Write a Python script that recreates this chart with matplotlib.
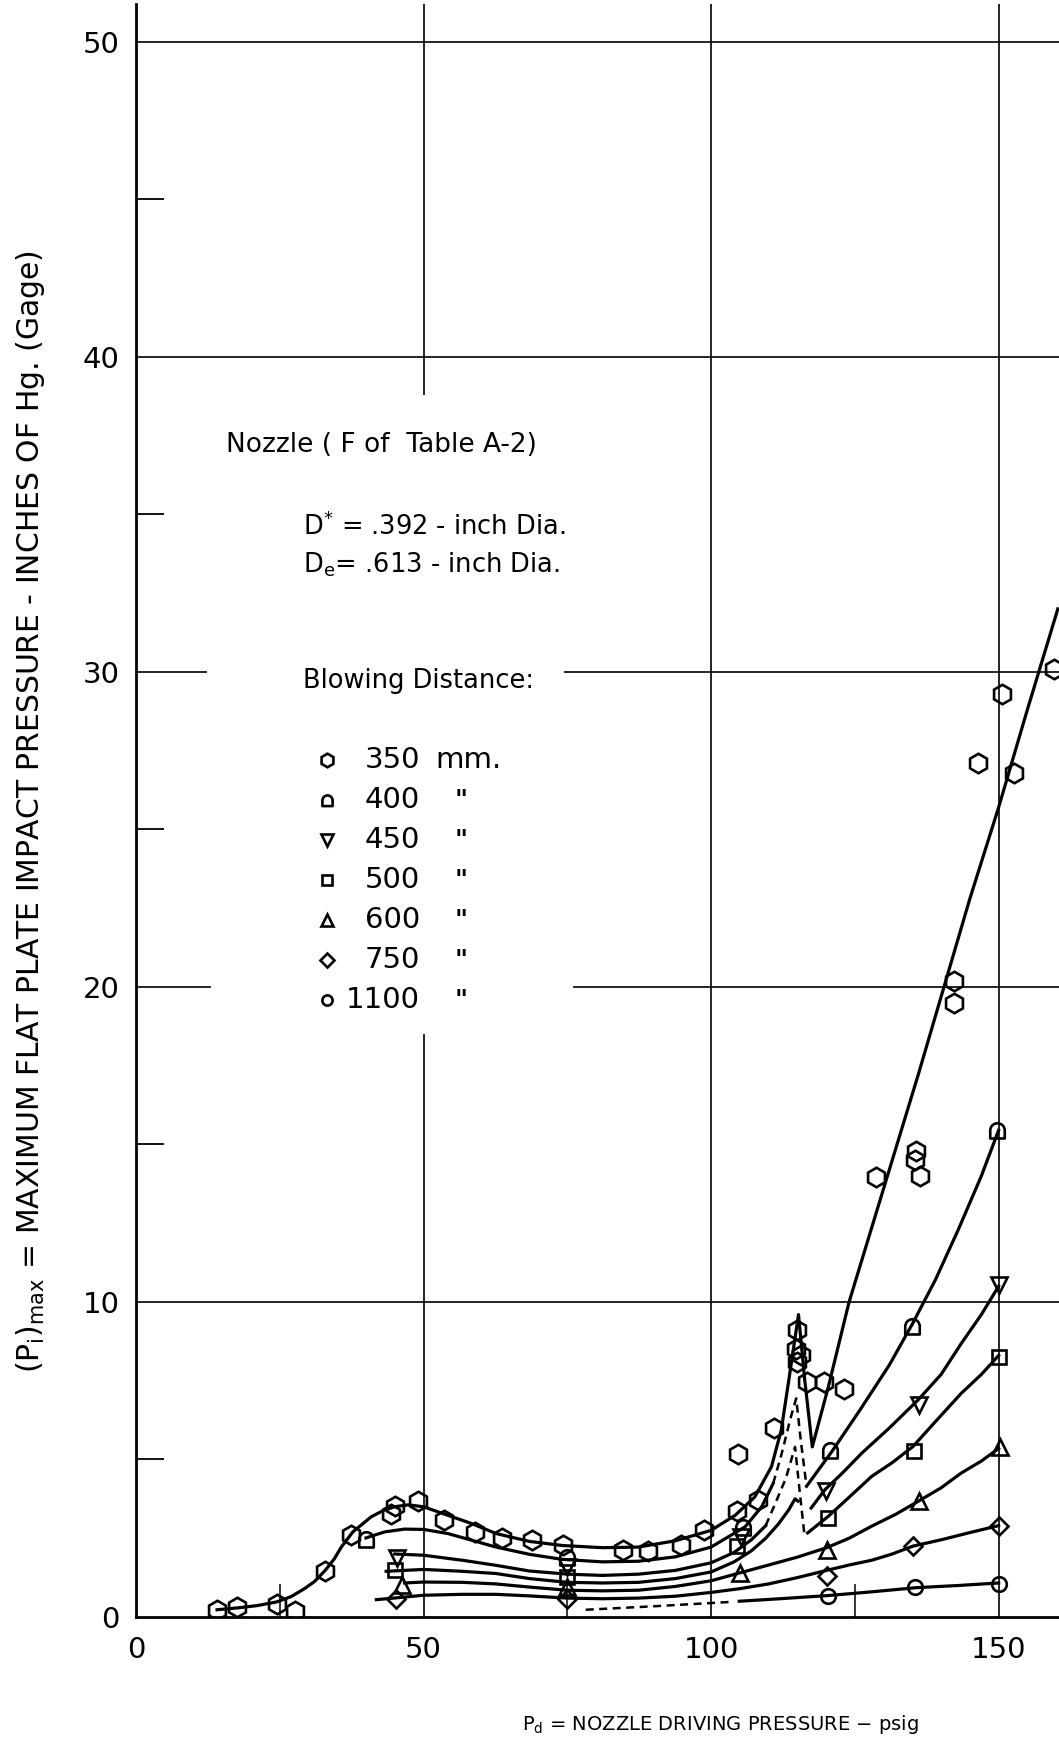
import matplotlib
matplotlib.use("Agg")
import matplotlib.pyplot as plt
from matplotlib.path import Path
from matplotlib import font_manager
import numpy as np

# ---------------- data ----------------
# scatter points per blowing distance
m350_x = [14.1, 17.6, 24.5, 27.6, 32.9, 37.4, 44.3, 45.0, 49.0, 53.5, 58.9, 63.6, 68.9, 74.3,
          84.6, 89.0, 94.7, 98.8, 104.5, 104.7, 108.1, 110.9, 114.9, 114.7, 115.7, 114.9,
          116.7, 119.7, 123.1, 128.6, 135.7, 135.5, 136.4, 142.3, 142.3, 146.4, 150.6, 152.7, 159.7]
m350_y = [0.23, 0.32, 0.42, 0.18, 1.45, 2.60, 3.28, 3.53, 3.68, 3.07, 2.71, 2.50, 2.45, 2.29,
          2.13, 2.11, 2.29, 2.77, 3.35, 5.16, 3.72, 5.99, 9.10, 8.52, 8.31, 8.10,
          7.47, 7.47, 7.23, 13.96, 14.8, 14.5, 14.0, 20.2, 19.5, 27.1, 29.3, 26.8, 30.1]
m400_x = [40.0, 75.0, 105.5, 120.7, 134.9, 149.7]
m400_y = [2.49, 1.90, 2.85, 5.31, 9.23, 15.45]
m450_x = [45.4, 75.0, 105.2, 119.9, 136.1, 150.0]
m450_y = [1.88, 1.59, 2.55, 3.99, 6.73, 10.53]
m500_x = [45.0, 75.0, 104.5, 120.3, 135.3, 150.0]
m500_y = [1.48, 1.27, 2.24, 3.14, 5.27, 8.26]
m600_x = [46.2, 75.0, 105.0, 120.1, 136.1, 150.3]
m600_y = [1.01, 0.95, 1.39, 2.14, 3.67, 5.41]
m750_x = [45.2, 75.0, 120.1, 135.1, 150.0]
m750_y = [0.58, 0.58, 1.30, 2.25, 2.88]
m1100_x = [120.3, 135.5, 150.0]
m1100_y = [0.66, 0.95, 1.05]

# hand-drawn fitted curves
c350_x = [14.1, 17.7, 21.0, 24.5, 27.0, 29.3, 31.0, 32.9, 34.5, 35.7, 37.7, 40.9, 43.0, 45.0, 47.3,
          50.0, 54.2, 58.3, 62.6, 68.4, 74.1, 81.1, 87.4, 93.8, 100.0, 104.2, 107.6, 110.5, 112.2,
          113.5, 115.2, 116.3, 117.6, 120.4, 124.0, 128.0, 132.0, 136.0, 140.5, 145.0, 150.0, 155.0, 160.3]
c350_y = [0.23, 0.29, 0.36, 0.48, 0.65, 0.90, 1.12, 1.48, 1.85, 2.22, 2.70, 3.18, 3.38, 3.50, 3.56,
          3.50, 3.23, 2.97, 2.65, 2.40, 2.27, 2.20, 2.22, 2.42, 2.75, 3.23, 3.81, 4.77, 5.93,
          7.50, 9.60, 7.50, 5.40, 7.31, 10.0, 12.4, 14.8, 17.2, 20.0, 22.8, 25.7, 28.8, 32.0]
c400_left_x = [40.0, 43.2, 46.7, 50.0, 54.2, 58.3, 62.6, 68.4, 74.1, 81.1, 87.4, 93.8, 100.0, 105.9, 108.8, 110.8]
c400_left_y = [2.51, 2.70, 2.79, 2.78, 2.65, 2.44, 2.22, 1.99, 1.83, 1.75, 1.77, 1.91, 2.22, 2.86, 3.50, 4.24]
c400_dash_x = [110.8, 112.3, 113.8, 114.8, 115.6, 116.6]
c400_dash_y = [4.24, 5.2, 6.3, 6.94, 5.6, 4.15]
c400_right_x = [116.6, 121.0, 126.0, 131.0, 135.0, 139.0, 143.0, 147.0, 150.0]
c400_right_y = [4.15, 5.25, 6.6, 8.0, 9.3, 10.7, 12.3, 14.0, 15.45]
c450_left_x = [45.0, 50.0, 56.8, 62.6, 68.4, 75.0, 81.1, 87.4, 93.8, 100.0, 104.0, 107.0, 109.5]
c450_left_y = [2.0, 1.96, 1.80, 1.64, 1.46, 1.36, 1.32, 1.36, 1.48, 1.72, 2.05, 2.45, 2.9]
c450_dash_x = [109.5, 111.2, 113.0, 114.6, 115.4, 116.2]
c450_dash_y = [2.9, 3.62, 4.4, 5.4, 4.0, 2.67]
c450_right_x = [117.4, 119.8, 123.0, 126.2, 131.0, 136.0, 140.0, 143.5, 147.0, 150.0]
c450_right_y = [3.46, 4.04, 4.6, 5.2, 6.0, 6.89, 7.7, 8.68, 9.6, 10.5]
c500_left_x = [43.5, 50.0, 56.8, 62.6, 68.4, 75.0, 81.1, 87.4, 93.8, 100.0, 104.0, 107.0, 109.5, 111.7, 113.5, 114.6, 115.1]
c500_left_y = [1.45, 1.51, 1.45, 1.38, 1.22, 1.10, 1.08, 1.10, 1.22, 1.43, 1.75, 2.10, 2.50, 2.95, 3.40, 3.75, 3.68]
c500_right_x = [116.8, 120.4, 124.0, 127.9, 131.5, 135.1, 139.0, 143.5, 147.0, 150.0]
c500_right_y = [2.67, 3.20, 3.80, 4.46, 4.90, 5.41, 6.2, 7.1, 7.7, 8.3]
c600_x = [46.7, 50.0, 56.8, 62.6, 68.4, 75.0, 81.1, 87.4, 93.8, 100.0, 105.0, 110.0, 115.0, 120.1,
          124.0, 127.9, 132.0, 136.0, 140.0, 143.5, 147.0, 150.0]
c600_y = [1.08, 1.11, 1.10, 1.05, 0.95, 0.85, 0.83, 0.85, 0.97, 1.15, 1.40, 1.65, 1.90, 2.20,
          2.50, 2.88, 3.25, 3.67, 4.10, 4.57, 4.95, 5.35]
c750_x = [41.8, 46.0, 50.0, 56.8, 62.6, 68.4, 75.0, 81.1, 87.4, 93.8, 100.0, 105.0, 110.0, 115.0,
          120.1, 124.0, 127.9, 131.5, 135.1, 140.0, 145.0, 150.0]
c750_y = [0.55, 0.62, 0.69, 0.72, 0.72, 0.67, 0.60, 0.58, 0.60, 0.66, 0.78, 0.90, 1.05, 1.25,
          1.48, 1.65, 1.80, 2.00, 2.25, 2.45, 2.68, 2.90]
c1100_dash_x = [78.2, 90.0, 103.5]
c1100_dash_y = [0.23, 0.34, 0.48]
c1100_x = [104.9, 112.0, 120.3, 128.0, 135.6, 143.0, 150.0]
c1100_y = [0.50, 0.58, 0.68, 0.80, 0.93, 1.00, 1.08]

x_ticks = [0, 50, 100, 150]
x_tick_labels = ["0", "50", "100", "150"]
y_ticks = [0, 10, 20, 30, 40, 50]
y_tick_labels = ["0", "10", "20", "30", "40", "50"]
legend_labels = ["350", "400", "450", "500", "600", "750", "1100"]

# ---------------- style ----------------
avail = {f.name for f in font_manager.fontManager.ttflist}
BASE = "DejaVu Sans"
NARROW = "Liberation Sans Narrow" if "Liberation Sans Narrow" in avail else BASE
plt.rcParams["font.family"] = [BASE]

W, H = 1059, 1746
fig = plt.figure(figsize=(W / 100, H / 100), dpi=100)
fig.patch.set_facecolor("white")
x0, y0 = 136, 129
ax = fig.add_axes([x0 / W, y0 / H, (W - x0) / W, (1742 - y0) / H])
XMAX, YMAX = 160.5, 51.2
ax.set_xlim(0, XMAX)
ax.set_ylim(0, YMAX)

for s in ("top", "right"):
    ax.spines[s].set_visible(False)
for s in ("left", "bottom"):
    ax.spines[s].set_linewidth(2.0)
    ax.spines[s].set_zorder(5)

ax.set_xticks(x_ticks)
ax.set_xticklabels(x_tick_labels)
ax.set_yticks(y_ticks)
ax.set_yticklabels(y_tick_labels)
ax.set_xticks([25, 75, 125], minor=True)
ax.set_yticks([5, 15, 25, 35, 45], minor=True)
ax.tick_params(axis="both", which="major", length=0, labelsize=21)
ax.tick_params(axis="x", which="major", pad=14)
ax.tick_params(axis="y", which="major", pad=12)
ax.tick_params(axis="x", which="minor", direction="in", length=24, width=1.1)
ax.tick_params(axis="y", which="minor", direction="in", length=20, width=1.3)

# grid lines (with gaps where the annotation text sits)
GL = dict(color="black", lw=1.2, zorder=1)
ax.hlines([10, 40, 50], 0, XMAX, **GL)
ax.hlines(30, 0, 12.3, **GL)
ax.hlines(30, 74.5, XMAX, **GL)
ax.hlines(20, 0, 13.0, **GL)
ax.hlines(20, 76.0, XMAX, **GL)
ax.vlines([100, 150], 0, YMAX, **GL)
ax.vlines(50, 0, 18.5, **GL)
ax.vlines(50, 38.8, YMAX, **GL)

# custom "arch" marker for 400 mm
arc = Path.arc(0, 180)
arch_verts = np.vstack([arc.vertices, [[-1, -1.1], [1, -1.1], [1, 0]]])
arch_codes = list(arc.codes) + [Path.LINETO, Path.LINETO, Path.CLOSEPOLY]
ARCH = Path(arch_verts, arch_codes)

LW = 2.3
DASH = (0, (3.2, 2.2))
K = "black"
# curves
ax.plot(c350_x, c350_y, color=K, lw=LW, zorder=3)
ax.plot(c400_left_x, c400_left_y, color=K, lw=LW, zorder=3)
ax.plot(c400_dash_x, c400_dash_y, color=K, lw=1.8, ls=DASH, zorder=3)
ax.plot(c400_right_x, c400_right_y, color=K, lw=LW, zorder=3)
ax.plot(c450_left_x, c450_left_y, color=K, lw=LW, zorder=3)
ax.plot(c450_dash_x, c450_dash_y, color=K, lw=1.8, ls=DASH, zorder=3)
ax.plot(c450_right_x, c450_right_y, color=K, lw=LW, zorder=3)
ax.plot(c500_left_x, c500_left_y, color=K, lw=LW, zorder=3)
ax.plot(c500_right_x, c500_right_y, color=K, lw=LW, zorder=3)
ax.plot(c600_x, c600_y, color=K, lw=LW, zorder=3)
ax.plot(c750_x, c750_y, color=K, lw=LW, zorder=3)
ax.plot(c1100_dash_x, c1100_dash_y, color=K, lw=1.8, ls=DASH, zorder=3)
ax.plot(c1100_x, c1100_y, color=K, lw=LW, zorder=3)

# markers
series = [
    (m350_x, m350_y, "h", 14),
    (m400_x, m400_y, ARCH, 11.5),
    (m450_x, m450_y, "v", 11.5),
    (m500_x, m500_y, "s", 10),
    (m600_x, m600_y, "^", 11.5),
    (m750_x, m750_y, "D", 9.5),
    (m1100_x, m1100_y, "o", 10.5),
]
MEW = 1.9
for xs, ys, mk, ms in series:
    ax.plot(xs, ys, ls="none", marker=mk, ms=ms, mfc="none", mec=K, mew=MEW, zorder=4)

# annotations
ax.text(15.7, 37.2, "Nozzle ( F of  Table A-2)", fontsize=19, va="center", ha="left")
ax.text(29.0, 34.6, r"D$^{*}$ = .392 - inch Dia.", fontsize=18.5, va="center", ha="left")
ax.text(29.0, 33.4, r"D$_{\rm e}$= .613 - inch Dia.", fontsize=18.5, va="center", ha="left")
ax.text(29.0, 29.7, "Blowing Distance:", fontsize=18.5, va="center", ha="left")

row0, dy = 27.2, 1.27
for i, ((xs, ys, mk, ms), lab) in enumerate(zip(series, legend_labels)):
    yy = row0 - i * dy
    ax.plot([33.2], [yy], ls="none", marker=mk, ms=ms * 0.7, mfc="none", mec=K, mew=1.9,
            zorder=4, clip_on=False)
    ax.text(49.4, yy, lab, fontsize=21, va="center", ha="right")
    if i == 0:
        ax.text(52.0, yy, "mm.", fontsize=21, va="center", ha="left")
    else:
        ax.text(56.5, yy, '"', fontsize=18, va="center", ha="center", fontweight="bold")

# axis titles
fig.text(31 / W, 1 - 812 / H,
         r"$\mathrm{(P_i)_{max}}$ = MAXIMUM FLAT PLATE IMPACT PRESSURE - INCHES OF Hg. (Gage)",
         rotation=90, ha="center", va="center", fontsize=21.5)
fig.text(720 / W, 1 - 1724 / H, r"$\mathrm{P_d}$ = NOZZLE DRIVING PRESSURE $-$ psig",
         ha="center", va="center", fontsize=14, family=[NARROW, BASE])

fig.savefig("out.png", dpi=100, facecolor="white")
